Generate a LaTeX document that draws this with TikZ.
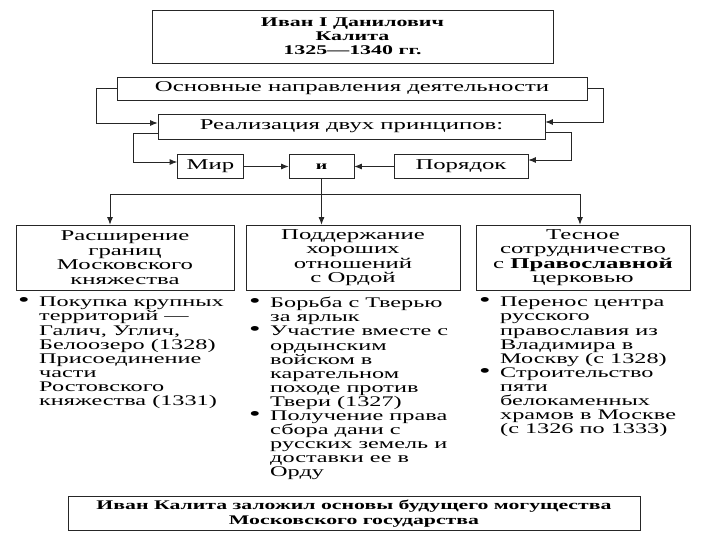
\documentclass[tikz,border=0pt]{standalone}
\usepackage{fontspec}
\setmainfont{Liberation Serif}[FakeStretch=1.65]
\usetikzlibrary{arrows.meta}
\newcommand{\bl}{\makebox[21pt][l]{{\fontsize{20}{14}\selectfont •}}}
\newcommand{\nb}{\hspace*{21pt}}
\begin{document}
\begin{tikzpicture}[x=1pt,y=-1pt,
  box/.style={draw=black!85, line width=0.8pt, inner sep=0pt, align=center, anchor=center, font=\fontsize{15}{14.5}\selectfont},
  arr/.style={draw=black!85, line width=0.8pt, -{Latex[length=7.5pt,width=6pt]}},
  list/.style={inner sep=0pt, anchor=north west, align=left, font=\fontsize{14.7}{14.1}\selectfont}]
\useasboundingbox (0,0) rectangle (720,540);
% top boxes
\node[box, minimum width=401pt, minimum height=53pt, font=\bfseries\fontsize{13.3}{13.8}\selectfont] (title) at (352.5,36.5) {Иван I Данилович\\Калита\\1325—1340 гг.};
\node[box, minimum width=470pt, minimum height=23pt] (osn) at (352,88.5) {Основные направления деятельности};
\node[box, minimum width=387pt, minimum height=25pt] (real) at (351.5,126.5) {Реализация двух принципов:};
\node[box, minimum width=66pt, minimum height=24pt] (mir) at (210.5,166.5) {Мир};
\node[box, minimum width=65pt, minimum height=24pt, font=\bfseries\fontsize{12}{14}\selectfont] (i) at (321.5,166.5) {и};
\node[box, minimum width=134pt, minimum height=24pt] (por) at (461,166.5) {Порядок};
% three boxes
\node[box, minimum width=218pt, minimum height=65pt] (b1) at (125,257.5) {Расширение\\границ\\Московского\\княжества};
\node[box, minimum width=214pt, minimum height=65pt] (b2) at (353,257.5) {Поддержание\\хороших\\отношений\\с Ордой};
\node[box, minimum width=214pt, minimum height=65pt] (b3) at (583,257.5) {Тесное\\сотрудничество\\с \textbf{Православной}\\церковью};
% connectors
\draw[arr] (osn.west) -- ++(-20,0) |- ([yshift=3.5pt]real.west);
\draw[arr] (osn.east) -- ++(16,0) |- ([yshift=4.5pt]real.east);
\draw[arr] ([yshift=-6.5pt]real.west) -- ++(-24,0) |- ([yshift=4.5pt]mir.west);
\draw[arr] ([yshift=-5.5pt]real.east) -- ++(26,0) |- ([yshift=6.5pt]por.east);
\draw[arr] (mir) -- (i);
\draw[arr] (por) -- (i);
\draw[arr] (i.south) -- (i.south |- b2.north);
\coordinate (hub) at ([yshift=-16pt]i.south);
\draw[arr] (hub) -| ([xshift=-15pt]b1.north);
\draw[arr] (hub) -| ([xshift=-3pt]b3.north);
% lists
\node[list] (l1) at (18,297) {\bl Покупка крупных\\ \nb территорий —\\ \nb Галич, Углич,\\ \nb Белоозеро (1328)\\ \nb Присоединение\\ \nb части\\ \nb Ростовского\\ \nb княжества (1331)};
\node[list] (l2) at (249,297) {\bl Борьба с Тверью\\ \nb за ярлык\\ \bl Участие вместе с\\ \nb ордынским\\ \nb войском в\\ \nb карательном\\ \nb походе против\\ \nb Твери (1327)\\ \bl Получение права\\ \nb сбора дани с\\ \nb русских земель и\\ \nb доставки ее в\\ \nb Орду};
\node[list] (l3) at (479,297) {\bl Перенос центра\\ \nb русского\\ \nb православия из\\ \nb Владимира в\\ \nb Москву (с 1328)\\ \bl Строительство\\ \nb пяти\\ \nb белокаменных\\ \nb храмов в Москве\\ \nb (с 1326 по 1333)};
% conclusion
\node[box, minimum width=572pt, minimum height=34pt, font=\bfseries\fontsize{13.2}{15}\selectfont] (concl) at (354,513.5) {Иван Калита заложил основы будущего могущества\\Московского государства};
\end{tikzpicture}
\end{document}
